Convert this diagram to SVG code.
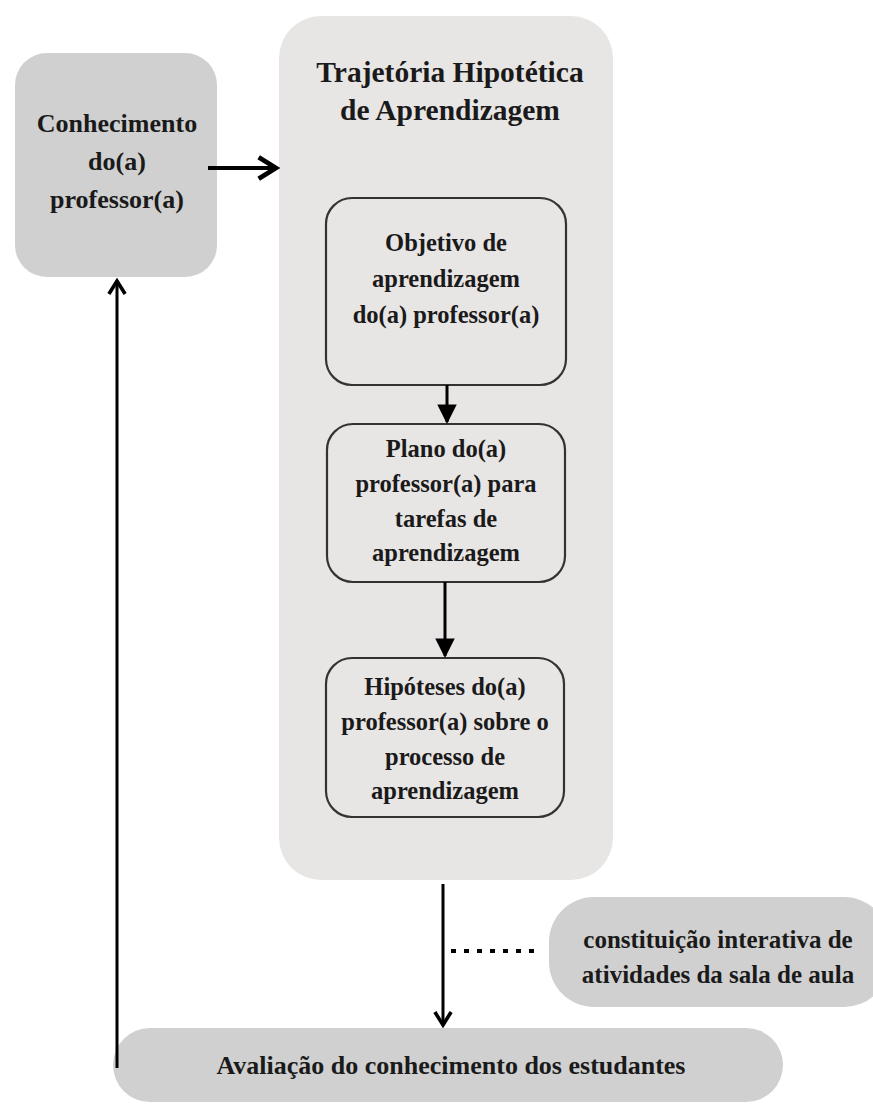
<svg xmlns="http://www.w3.org/2000/svg" width="873" height="1106" viewBox="0 0 873 1106">
<style>
text{font-family:"Liberation Serif","Times New Roman",serif;font-weight:bold;fill:#1a1a1a;text-anchor:middle}
.t26{font-size:26px}
.t24{font-size:24.5px}
.t25{font-size:25px}
.t29{font-size:29.5px}
.inner{fill:#e8e5e5;stroke:#333;stroke-width:2.2}
.gray{fill:#d0d0d0}
.ln{stroke:#000;stroke-width:4;fill:none}
.ln3{stroke:#000;stroke-width:3;fill:none}
</style>
<defs>
<marker id="chev" viewBox="0 0 12 12" refX="10" refY="6" markerWidth="6.5" markerHeight="6.5" orient="auto" markerUnits="strokeWidth">
<path d="M2,1 L10,6 L2,11" fill="none" stroke="#000" stroke-width="2.2"/>
</marker>
<marker id="tri" viewBox="0 0 10 10" refX="9" refY="5" markerWidth="6.5" markerHeight="7" orient="auto" markerUnits="strokeWidth">
<path d="M0,0 L10,5 L0,10 z" fill="#000"/>
</marker>
</defs>
<rect width="873" height="1106" fill="#fff"/>
<g id="conhecimento">
<rect class="gray" x="15" y="53" width="202" height="224" rx="32"/>
<text class="t26" x="117" y="132">Conhecimento</text>
<text class="t26" x="117" y="170">do(a)</text>
<text class="t26" x="117" y="208">professor(a)</text>
</g>
<g id="trajetoria">
<rect x="279" y="16" width="334" height="864" rx="42" fill="#e8e5e5"/>
<text class="t29" x="450" y="82">Trajetória Hipotética</text>
<text class="t29" x="450" y="120">de Aprendizagem</text>
</g>
<g id="objetivo">
<rect class="inner" x="326" y="198" width="240" height="187" rx="26"/>
<text class="t24" x="446" y="251">Objetivo de</text>
<text class="t24" x="446" y="287">aprendizagem</text>
<text class="t24" x="446" y="323">do(a) professor(a)</text>
</g>
<g id="plano">
<rect class="inner" x="327" y="424" width="238" height="158" rx="26"/>
<text class="t24" x="446" y="457">Plano do(a)</text>
<text class="t24" x="446" y="492">professor(a) para</text>
<text class="t24" x="446" y="527">tarefas de</text>
<text class="t24" x="446" y="561">aprendizagem</text>
</g>
<g id="hipoteses">
<rect class="inner" x="326" y="658" width="238" height="159" rx="26"/>
<text class="t24" x="445" y="695">Hipóteses do(a)</text>
<text class="t24" x="445" y="730">professor(a) sobre o</text>
<text class="t24" x="445" y="765">processo de</text>
<text class="t24" x="445" y="799">aprendizagem</text>
</g>
<g id="constituicao">
<rect class="gray" x="549" y="897" width="340" height="110" rx="45"/>
<text class="t25" x="718" y="948">constituição interativa de</text>
<text class="t25" x="718" y="983">atividades da sala de aula</text>
</g>
<g id="avaliacao">
<rect class="gray" x="113" y="1028" width="670" height="74" rx="37"/>
<text class="t26" x="451" y="1074">Avaliação do conhecimento dos estudantes</text>
</g>
<g id="connectors">
<line class="ln" x1="208" y1="168" x2="276" y2="168" marker-end="url(#chev)"/>
<line class="ln3" x1="447" y1="385" x2="447" y2="422" marker-end="url(#tri)"/>
<line class="ln3" x1="445" y1="582" x2="445" y2="656" marker-end="url(#tri)"/>
<line class="ln3" x1="443" y1="884" x2="443" y2="1025" marker-end="url(#chev)"/>
<line class="ln3" x1="117" y1="1068" x2="117" y2="281" marker-end="url(#chev)"/>
<line x1="451" y1="951" x2="542" y2="951" stroke="#000" stroke-width="4" stroke-dasharray="5 8"/>
</g>
</svg>
